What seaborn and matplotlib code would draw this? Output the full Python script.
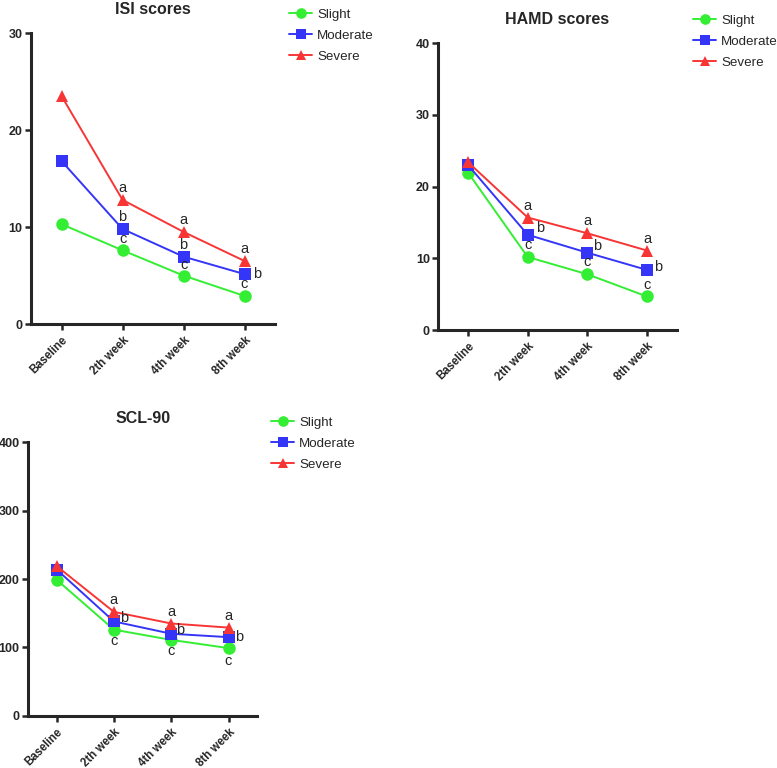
import pandas as pd
import matplotlib.pyplot as plt
import seaborn as sns

weeks = ['Baseline', '2th week', '4th week', '8th week']
groups = ['Slight', 'Moderate', 'Severe']

isi_slight = [10.3, 7.6, 5.0, 2.9]
isi_moderate = [16.8, 9.8, 6.95, 5.15]
isi_severe = [23.5, 12.8, 9.5, 6.5]

hamd_slight = [21.95, 10.2, 7.8, 4.7]
hamd_moderate = [23.0, 13.3, 10.8, 8.4]
hamd_severe = [23.4, 15.7, 13.5, 11.1]

scl_slight = [199, 126, 111, 99]
scl_moderate = [214, 138, 120, 115]
scl_severe = [219, 152, 135, 129]

# significance letters per group (None = no letter)
letters = {
    'Slight': [None, 'c', 'c', 'c'],
    'Moderate': [None, 'b', 'b', 'b'],
    'Severe': [None, 'a', 'a', 'a'],
}

palette = {'Slight': '#33ee33', 'Moderate': '#3535f8', 'Severe': '#f83535'}
markers = {'Slight': 'o', 'Moderate': 's', 'Severe': '^'}

sns.set_style('ticks')
plt.rcParams['font.family'] = ['Liberation Sans', 'DejaVu Sans']

W, H = 777, 768


def long_df(slight, moderate, severe):
    rows = []
    for g, vals in zip(groups, [slight, moderate, severe]):
        for w, v in zip(weeks, vals):
            rows.append({'week': w, 'group': g, 'value': v})
    return pd.DataFrame(rows)


def draw_panel(ax, df, title, ymax, ystep, offsets, leg_px):
    sns.lineplot(data=df, x='week', y='value', hue='group', style='group',
                 hue_order=groups, style_order=groups, palette=palette,
                 markers=markers, dashes=False, markersize=9, linewidth=1.4,
                 markeredgewidth=0, ax=ax)
    ax.set_xlim(-0.5, 3.5)
    ax.set_ylim(0, ymax)
    ax.set_yticks(range(0, ymax + 1, ystep))
    ax.set_xlabel('')
    ax.set_ylabel('')
    ax.set_title(title, fontsize=11.5, fontweight='bold', pad=14)
    for lab in ax.get_xticklabels():
        lab.set_rotation(45)
        lab.set_ha('right')
        lab.set_rotation_mode('anchor')
        lab.set_fontweight('bold')
        lab.set_fontsize(8.3)
    for lab in ax.get_yticklabels():
        lab.set_fontweight('bold')
        lab.set_fontsize(9)
    for side in ['top', 'right']:
        ax.spines[side].set_visible(False)
    for side in ['left', 'bottom']:
        ax.spines[side].set_linewidth(2.2)
    ax.tick_params(width=1.8, length=4.5, pad=1.5)
    ax.tick_params(axis='x', pad=3)

    # letters, offsets given in pixels
    for g in groups:
        sub = df[df['group'] == g].reset_index(drop=True)
        for i, letter in enumerate(letters[g]):
            if letter is None:
                continue
            dx, dy = offsets[g][i]
            ax.annotate(letter, (i, sub.loc[i, 'value']), xytext=(dx * 0.72, dy * 0.72),
                        textcoords='offset points', ha='center', va='center',
                        fontsize=10.5)

    # legend anchor given in figure pixels (from top-left)
    lx, ly = leg_px
    handles, labels = ax.get_legend_handles_labels()
    ax.legend(handles, labels, loc='upper left',
              bbox_to_anchor=(lx / W, 1 - ly / H), bbox_transform=fig.transFigure,
              frameon=False, fontsize=9.6, handlelength=1.7, handletextpad=0.4,
              labelspacing=0.66, borderaxespad=0, markerscale=0.85)


fig = plt.figure(figsize=(W / 100, H / 100), dpi=100)
ax1 = fig.add_axes([0.040, 0.578, 0.314, 0.379])
ax2 = fig.add_axes([0.564, 0.570, 0.307, 0.374])
ax3 = fig.add_axes([0.036, 0.068, 0.295, 0.356])

isi_off = {
    'Slight': [None, (0, 11), (0, 11), (0, 12)],
    'Moderate': [None, (0, 12), (0, 12), (13, 0)],
    'Severe': [None, (0, 12), (0, 12), (0, 12)],
}
hamd_off = {
    'Slight': [None, (0, 12), (0, 12), (0, 11)],
    'Moderate': [None, (12, 7), (10, 7), (11, 3)],
    'Severe': [None, (0, 12), (0, 12), (0, 12)],
}
scl_off = {
    'Slight': [None, (0, -11), (0, -11), (0, -13)],
    'Moderate': [None, (10, 3), (9, 4), (11, 0)],
    'Severe': [None, (0, 12), (0, 12), (0, 12)],
}

draw_panel(ax1, long_df(isi_slight, isi_moderate, isi_severe), 'ISI scores', 30, 10,
           isi_off, (284, 3))
draw_panel(ax2, long_df(hamd_slight, hamd_moderate, hamd_severe), 'HAMD scores', 40, 10,
           hamd_off, (688, 9))
draw_panel(ax3, long_df(scl_slight, scl_moderate, scl_severe), 'SCL-90', 400, 100,
           scl_off, (266, 411))

fig.savefig('out.png', dpi=100)
